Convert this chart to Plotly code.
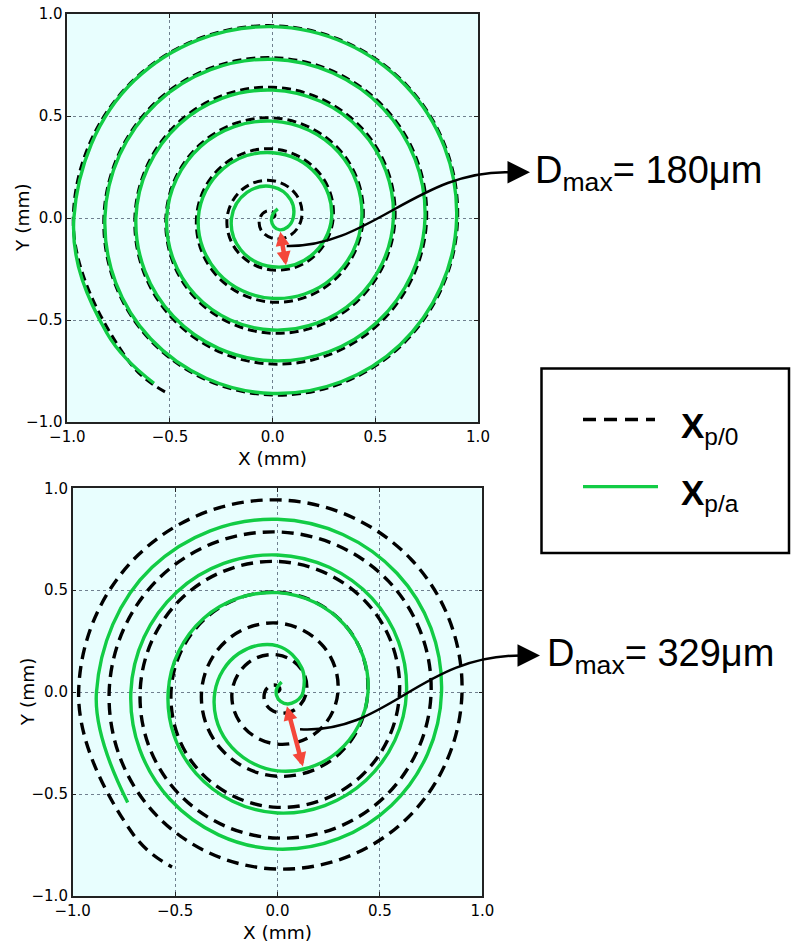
import numpy as np
import plotly.graph_objects as go

W, H = 795, 945

# ---------------- data ----------------
tick_vals = [-1.0, -0.5, 0.0, 0.5, 1.0]
tick_text = ["\u22121.0", "\u22120.5", "0.0", "0.5", "1.0"]

# X_p/0 : black dashed spiral (identical in both panels); polar samples, angle in degrees
black_angle = [0, 45, 90, 135, 180, 225, 270, 315,
               360, 405, 450, 495, 540, 585, 630, 675,
               720, 765, 810, 855, 900, 945, 990, 1035,
               1080, 1125, 1170, 1215, 1260, 1305, 1350, 1395,
               1440, 1485, 1530, 1575, 1620, 1665, 1710, 1755,
               1800, 1845, 1890, 1935, 1980, 2025, 2070, 2115,
               2160, 2205, 2250, 2295, 2340, 2385, 2399]
black_radius = [0.000, 0.016, 0.031, 0.046, 0.062, 0.081, 0.100, 0.121,
                0.141, 0.162, 0.183, 0.203, 0.222, 0.238, 0.255, 0.275,
                0.295, 0.317, 0.339, 0.355, 0.371, 0.392, 0.413, 0.427,
                0.441, 0.466, 0.491, 0.505, 0.520, 0.543, 0.565, 0.580,
                0.596, 0.618, 0.641, 0.656, 0.671, 0.693, 0.716, 0.733,
                0.750, 0.768, 0.786, 0.804, 0.822, 0.845, 0.868, 0.885,
                0.901, 0.922, 0.943, 0.957, 0.971, 0.992, 1.000]

# X_p/a (top panel): inner hook in x/y, then polar samples
green_top_hook_x = [0.025, 0.002, -0.006, 0.006, 0.035, 0.072]
green_top_hook_y = [0.045, 0.020, -0.012, -0.042, -0.058, -0.045]
green_top_angle = [360, 405, 450, 495, 540, 585, 630, 675,
                   720, 765, 810, 855, 900, 945, 990, 1035,
                   1080, 1125, 1170, 1215, 1260, 1305, 1350, 1395,
                   1440, 1485, 1530, 1575, 1620, 1665, 1710, 1755,
                   1800, 1845, 1890, 1935, 1980, 2025, 2070, 2115,
                   2160, 2205, 2250, 2295, 2340, 2375, 2394.5]
green_top_radius = [0.100, 0.125, 0.153, 0.177, 0.200, 0.220, 0.239, 0.263,
                    0.287, 0.303, 0.320, 0.341, 0.362, 0.378, 0.394, 0.414,
                    0.434, 0.455, 0.475, 0.496, 0.516, 0.533, 0.549, 0.569,
                    0.588, 0.608, 0.627, 0.647, 0.666, 0.683, 0.700, 0.721,
                    0.742, 0.760, 0.778, 0.798, 0.817, 0.839, 0.860, 0.878,
                    0.896, 0.917, 0.938, 0.953, 0.968, 0.985, 0.995]

# X_p/a (bottom panel)
green_bot_hook_x = [0.020, -0.003, -0.005, 0.015, 0.050, 0.090, 0.116]
green_bot_hook_y = [0.050, 0.020, -0.015, -0.045, -0.058, -0.045, -0.020]
green_bot_angle = [360, 405, 450, 495, 540, 585, 630, 675,
                   720, 765, 810, 855, 900, 945, 990, 1035,
                   1080, 1125, 1170, 1215, 1260, 1305, 1350, 1395,
                   1440, 1485, 1530, 1575, 1620, 1656.5]
green_bot_radius = [0.125, 0.168, 0.227, 0.268, 0.306, 0.346, 0.386, 0.415,
                    0.442, 0.465, 0.488, 0.511, 0.534, 0.563, 0.593, 0.611,
                    0.630, 0.652, 0.673, 0.695, 0.716, 0.743, 0.770, 0.786,
                    0.801, 0.825, 0.848, 0.866, 0.884, 0.910]

# D_max arrows (start x, start y, end x, end y) in mm, and their labels
dmax_arrow_top = [0.036, -0.060, 0.065, -0.232]
dmax_arrow_bot = [0.044, -0.062, 0.124, -0.365]
dmax_labels = ["180", "329"]

series_names = ["X<sub>p/0</sub>", "X<sub>p/a</sub>"]
x_title = "X (mm)"
y_title = "Y (mm)"

# ---------------- styling ----------------
BLACK = "#000000"
GREEN = "#12cc45"
RED = "#f4473a"
BG = "#e8fefe"
SMOOTH = 1.12


def polar_xy(angle_deg, radius):
    a = np.radians(np.asarray(angle_deg, dtype=float))
    r = np.asarray(radius, dtype=float)
    return r * np.cos(a), r * np.sin(a)


def px(xp):
    return xp / W


def py(yp):
    return 1 - yp / H


fig = go.Figure()

bx, by = polar_xy(black_angle, black_radius)
gtx, gty = polar_xy(green_top_angle, green_top_radius)
gbx, gby = polar_xy(green_bot_angle, green_bot_radius)
gtx = np.concatenate([green_top_hook_x, gtx])
gty = np.concatenate([green_top_hook_y, gty])
gbx = np.concatenate([green_bot_hook_x, gbx])
gby = np.concatenate([green_bot_hook_y, gby])

# top panel
fig.add_trace(go.Scatter(x=bx, y=by, mode="lines", name=series_names[0],
                         line=dict(color=BLACK, width=3, dash="9px,5px", shape="spline",
                                   smoothing=SMOOTH, simplify=False),
                         xaxis="x", yaxis="y", showlegend=False))
fig.add_trace(go.Scatter(x=gtx, y=gty, mode="lines", name=series_names[1],
                         line=dict(color=GREEN, width=3.4, shape="spline",
                                   smoothing=SMOOTH, simplify=False),
                         xaxis="x", yaxis="y", showlegend=False))
# bottom panel
fig.add_trace(go.Scatter(x=bx, y=by, mode="lines", name=series_names[0],
                         line=dict(color=BLACK, width=3.4, dash="12px,7px", shape="spline",
                                   smoothing=SMOOTH, simplify=False),
                         xaxis="x2", yaxis="y2", showlegend=False))
fig.add_trace(go.Scatter(x=gbx, y=gby, mode="lines", name=series_names[1],
                         line=dict(color=GREEN, width=3.4, shape="spline",
                                   smoothing=SMOOTH, simplify=False),
                         xaxis="x2", yaxis="y2", showlegend=False))

axis_common = dict(
    range=[-1, 1], tickvals=tick_vals, ticktext=tick_text,
    showgrid=True, gridcolor="#70808f", griddash="dot", gridwidth=1,
    zeroline=False, showline=True, linecolor="#222222", linewidth=1.5,
    mirror="allticks", ticks="inside", ticklen=4, tickcolor="#222222",
    tickfont=dict(family="DejaVu Sans", size=15, color="black"),
    fixedrange=True, automargin=False,
)

panels = [
    dict(x0=67.3, x1=478.0, y0=14.0, y1=422.0),
    dict(x0=72.7, x1=482.3, y0=488.3, y1=896.0),
]

fig.update_layout(
    width=W, height=H,
    margin=dict(l=0, r=0, t=0, b=0),
    paper_bgcolor="white", plot_bgcolor=BG,
    showlegend=False,
    xaxis=dict(axis_common, domain=[px(panels[0]["x0"]), px(panels[0]["x1"])], anchor="y"),
    yaxis=dict(axis_common, domain=[py(panels[0]["y1"]), py(panels[0]["y0"])], anchor="x"),
    xaxis2=dict(axis_common, domain=[px(panels[1]["x0"]), px(panels[1]["x1"])], anchor="y2"),
    yaxis2=dict(axis_common, domain=[py(panels[1]["y1"]), py(panels[1]["y0"])], anchor="x2"),
)

# axis titles
title_font = dict(family="DejaVu Sans", size=18.5, color="black")
for p, ty_x in zip(panels, [22, 27]):
    cx = (p["x0"] + p["x1"]) / 2
    cy = (p["y0"] + p["y1"]) / 2
    fig.add_annotation(x=px(cx), y=py(p["y1"] + 36), xref="paper", yref="paper",
                       text=x_title, showarrow=False, xanchor="center", yanchor="middle",
                       font=title_font)
    fig.add_annotation(x=px(ty_x), y=py(cy), xref="paper", yref="paper",
                       text=y_title, showarrow=False, xanchor="center", yanchor="middle",
                       textangle=-90, font=title_font)

# red double arrows (D_max)
for arr, xr, yr in [(dmax_arrow_top, "x", "y"), (dmax_arrow_bot, "x2", "y2")]:
    fig.add_annotation(x=arr[2], y=arr[3], ax=arr[0], ay=arr[1], xref=xr, yref=yr,
                       axref=xr, ayref=yr, text="", showarrow=True,
                       arrowhead=2, startarrowhead=2, arrowside="end+start",
                       arrowsize=0.62, startarrowsize=0.62, arrowwidth=4.5, arrowcolor=RED,
                       standoff=0, startstandoff=0, font=dict(size=12))


# connector curves (decoration, paper coords)
def bez_path(p0, c1, c2, p1):
    return "M {},{} C {},{} {},{} {},{}".format(px(p0[0]), py(p0[1]), px(c1[0]), py(c1[1]),
                                                px(c2[0]), py(c2[1]), px(p1[0]), py(p1[1]))


connectors = [
    ((286.7, 246.0), (370, 248), (420, 168), (512, 172.3), (530, 172.3)),
    ((300.0, 729.3), (388, 734), (420, 655), (522, 655.5), (540, 655.5)),
]
for p0, c1, c2, p1, tip in connectors:
    fig.add_shape(type="path", path=bez_path(p0, c1, c2, p1), xref="paper", yref="paper",
                  line=dict(color="black", width=2.5))
    fig.add_annotation(x=px(tip[0]), y=py(tip[1]), xref="paper", yref="paper",
                       ax=-(tip[0] - p1[0]), ay=0, text="", showarrow=True,
                       arrowhead=2, arrowsize=1.8, arrowwidth=2.5, arrowcolor="black",
                       standoff=0, font=dict(size=12))

# D_max labels
for lab, xx, yy in [(dmax_labels[0], 533, 172.5), (dmax_labels[1], 545, 656)]:
    fig.add_annotation(x=px(xx), y=py(yy), xref="paper", yref="paper",
                       text="D<sub>max</sub>= " + lab + "\u03bcm", showarrow=False,
                       xanchor="left", yanchor="middle",
                       font=dict(family="Liberation Sans, Arial", size=38, color="black"))

# manual legend box
fig.add_shape(type="rect", xref="paper", yref="paper",
              x0=px(541.5), x1=px(789), y0=py(553), y1=py(368.5),
              line=dict(color="black", width=2.5), fillcolor="white", layer="below")
fig.add_shape(type="line", xref="paper", yref="paper",
              x0=px(583), x1=px(655), y0=py(419.5), y1=py(419.5),
              line=dict(color="black", width=3.3, dash="13px,8px"))
fig.add_shape(type="line", xref="paper", yref="paper",
              x0=px(583), x1=px(658), y0=py(486.7), y1=py(486.7),
              line=dict(color=GREEN, width=3.3))
for name, yy in [(series_names[0], 428), (series_names[1], 495)]:
    fig.add_annotation(x=px(679), y=py(yy), xref="paper", yref="paper",
                       text="<b>X</b>" + name[1:], showarrow=False,
                       xanchor="left", yanchor="middle",
                       font=dict(family="Liberation Sans, Arial", size=35, color="black"))

fig.write_html("out.html", config={"displayModeBar": False},
               post_script="document.body.style.margin='0px';")
